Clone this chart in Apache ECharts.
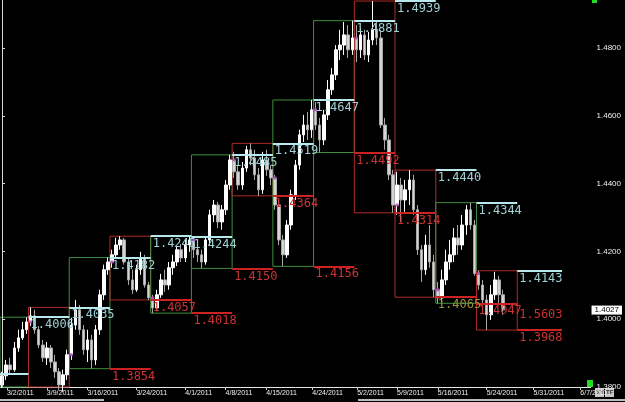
<!DOCTYPE html>
<html>
<head>
<meta charset="utf-8">
<title>EUR/USD weekly ranges</title>
<script src="https://cdn.jsdelivr.net/npm/echarts@6/dist/echarts.min.js"></script>
<style>
  html, body { margin: 0; padding: 0; background: #000; }
  #chart { width: 625px; height: 402px; }
</style>
</head>
<body>
<div id="chart"></div>
<script>
// bars per week (2 per trading day), last week still running
const weekBars = [7, 10, 10, 10, 10, 10, 10, 10, 10, 10, 10, 10, 7];
// slots taken by each week on the time axis (last one = current week)
const weekSlots = [7, 10, 10, 10, 10, 10, 10, 10, 10, 10, 10, 10, 10, 11];

// [open, close, low, high]
const bars = [
  // 2/28
  [1.3806,1.3833,1.3797,1.3845],[1.3833,1.3865,1.3821,1.3880],[1.3865,1.3851,1.3836,1.3886],
  [1.3851,1.3915,1.3845,1.3933],[1.3915,1.3945,1.3904,1.3969],[1.3945,1.3969,1.3939,1.3992],
  [1.3969,1.3992,1.3957,1.4006],
  // 3/7
  [1.3992,1.4010,1.3980,1.4035],[1.4010,1.3969,1.3957,1.4028],[1.3969,1.3924,1.3915,1.3980],
  [1.3924,1.3886,1.3874,1.3939],[1.3886,1.3915,1.3865,1.3933],[1.3915,1.3874,1.3856,1.3924],
  [1.3874,1.3845,1.3827,1.3895],[1.3845,1.3806,1.3792,1.3856],[1.3806,1.3836,1.3786,1.3851],
  [1.3836,1.3895,1.3821,1.3910],
  // 3/14
  [1.3895,1.3983,1.3880,1.4004],[1.3983,1.4028,1.3969,1.4057],[1.4028,1.3969,1.3954,1.4042],
  [1.3969,1.3910,1.3895,1.3983],[1.3910,1.3939,1.3874,1.3969],[1.3939,1.3880,1.3854,1.3954],
  [1.3880,1.3969,1.3865,1.3983],[1.3969,1.4072,1.3954,1.4087],[1.4072,1.4146,1.4057,1.4161],
  [1.4146,1.4169,1.4131,1.4182],
  // 3/21
  [1.4169,1.4190,1.4152,1.4205],[1.4190,1.4219,1.4181,1.4240],[1.4219,1.4234,1.4205,1.4245],
  [1.4234,1.4169,1.4161,1.4240],[1.4169,1.4116,1.4101,1.4181],[1.4116,1.4087,1.4075,1.4146],
  [1.4087,1.4146,1.4081,1.4161],[1.4146,1.4181,1.4131,1.4199],[1.4181,1.4101,1.4093,1.4190],
  [1.4101,1.4063,1.4057,1.4110],
  // 3/28
  [1.4063,1.4033,1.4018,1.4072],[1.4033,1.4072,1.4024,1.4087],[1.4072,1.4116,1.4063,1.4134],
  [1.4116,1.4101,1.4081,1.4146],[1.4101,1.4152,1.4087,1.4169],[1.4152,1.4169,1.4131,1.4190],
  [1.4169,1.4205,1.4157,1.4217],[1.4205,1.4181,1.4169,1.4222],[1.4181,1.4219,1.4169,1.4234],
  [1.4219,1.4234,1.4199,1.4244],
  // 4/4
  [1.4234,1.4205,1.4181,1.4240],[1.4205,1.4190,1.4169,1.4222],[1.4190,1.4169,1.4150,1.4205],
  [1.4169,1.4234,1.4161,1.4240],[1.4234,1.4308,1.4219,1.4323],[1.4308,1.4337,1.4287,1.4352],
  [1.4337,1.4287,1.4269,1.4346],[1.4287,1.4323,1.4264,1.4337],[1.4323,1.4396,1.4308,1.4411],
  [1.4396,1.4470,1.4382,1.4485],
  // 4/11
  [1.4470,1.4435,1.4417,1.4494],[1.4435,1.4396,1.4382,1.4455],[1.4396,1.4446,1.4382,1.4464],
  [1.4446,1.4500,1.4435,1.4511],[1.4500,1.4476,1.4455,1.4519],[1.4476,1.4426,1.4411,1.4500],
  [1.4426,1.4382,1.4364,1.4446],[1.4382,1.4470,1.4370,1.4494],[1.4470,1.4441,1.4423,1.4500],
  [1.4441,1.4417,1.4396,1.4455],
  // 4/18
  [1.4417,1.4337,1.4323,1.4426],[1.4337,1.4234,1.4219,1.4352],[1.4234,1.4190,1.4156,1.4249],
  [1.4190,1.4278,1.4181,1.4293],[1.4278,1.4367,1.4264,1.4382],[1.4367,1.4455,1.4352,1.4470],
  [1.4455,1.4544,1.4441,1.4559],[1.4544,1.4573,1.4523,1.4603],[1.4573,1.4559,1.4529,1.4612],
  [1.4559,1.4618,1.4535,1.4647],
  // 4/25
  [1.4618,1.4573,1.4559,1.4641],[1.4573,1.4529,1.4492,1.4594],[1.4529,1.4603,1.4514,1.4618],
  [1.4603,1.4677,1.4588,1.4706],[1.4677,1.4721,1.4662,1.4741],[1.4721,1.4795,1.4706,1.4809],
  [1.4795,1.4809,1.4765,1.4854],[1.4809,1.4839,1.4780,1.4877],[1.4839,1.4795,1.4771,1.4868],
  [1.4795,1.4830,1.4780,1.4881],
  // 5/2
  [1.4830,1.4795,1.4759,1.4868],[1.4795,1.4839,1.4771,1.4859],[1.4839,1.4780,1.4765,1.4854],
  [1.4780,1.4824,1.4759,1.4848],[1.4824,1.4854,1.4809,1.4939],[1.4854,1.4830,1.4809,1.4883],
  [1.4830,1.4573,1.4564,1.4854],[1.4573,1.4529,1.4500,1.4594],[1.4529,1.4426,1.4411,1.4544],
  [1.4426,1.4337,1.4314,1.4441],
  // 5/9
  [1.4337,1.4396,1.4308,1.4435],[1.4396,1.4352,1.4287,1.4417],[1.4352,1.4382,1.4317,1.4411],
  [1.4382,1.4411,1.4337,1.4440],[1.4411,1.4323,1.4308,1.4426],[1.4323,1.4205,1.4190,1.4337],
  [1.4205,1.4146,1.4110,1.4219],[1.4146,1.4219,1.4131,1.4249],[1.4219,1.4169,1.4152,1.4278],
  [1.4169,1.4087,1.4065,1.4190],
  // 5/16
  [1.4087,1.4063,1.4047,1.4110],[1.4063,1.4116,1.4051,1.4146],[1.4116,1.4169,1.4101,1.4205],
  [1.4169,1.4190,1.4146,1.4234],[1.4190,1.4240,1.4169,1.4269],[1.4240,1.4219,1.4190,1.4278],
  [1.4219,1.4278,1.4205,1.4308],[1.4278,1.4323,1.4249,1.4337],[1.4323,1.4278,1.4264,1.4344],
  [1.4278,1.4135,1.4128,1.4293],
  // 5/23
  [1.4135,1.4101,1.4087,1.4143],[1.4101,1.4057,1.4042,1.4116],[1.4057,1.4013,1.3968,1.4072],
  [1.4013,1.4072,1.3998,1.4101],[1.4072,1.4116,1.4057,1.4140],[1.4116,1.4072,1.4042,1.4128],
  [1.4072,1.4027,1.4013,1.4087]
];

const priorWeekHigh = 1.3838;
const lastPrice = 1.4027;
const extraLabel = '1.5603';
const extraLabelPrice = 1.4036;

const yTicks = [1.38, 1.40, 1.42, 1.44, 1.46, 1.48];
const dateLabels = ['3/2/2011', '3/9/2011', '3/16/2011', '3/24/2011', '4/1/2011', '4/8/2011', '4/15/2011',
  '4/24/2011', '5/2/2011', '5/9/2011', '5/16/2011', '5/24/2011', '5/31/2011', '6/7/2011'];
const dateSlots = [1.2, 11, 21, 33, 45, 54.9, 64.9, 76.2, 87.2, 97, 107, 119, 130.5, 142];

const GREEN = '#3f8f3f', RED = '#b02a2a';
const HI_LINE = '#b6e8ee', HI_TEXT = '#9fd0d6';
const LO_LINE = '#cc2222', LO_TEXT = '#cc3333';
const NONE = 'rgba(0,0,0,0)';
const Y_MIN = 1.38, Y_MAX = 1.4942;

// week edges on the slot axis
const edges = [-0.5];
weekSlots.forEach((n, i) => edges.push(edges[i] + n));

// weekly open / close / high / low
const weeks = [];
let pos = 0;
weekBars.forEach(n => {
  const wk = bars.slice(pos, pos + n);
  weeks.push({
    start: pos,
    open: wk[0][0],
    close: wk[n - 1][1],
    low: Math.min(...wk.map(b => b[2])),
    high: Math.max(...wk.map(b => b[3]))
  });
  pos += n;
});

const candleData = bars.map((b, i) => [i, b[0], b[1], b[2], b[3]]);
const openDots = weeks.slice(1).map(w => [w.start, w.open]);

const boxes = weeks.map((w, k) => [
  { coord: [edges[k], w.low], itemStyle: { color: NONE, borderColor: w.close >= w.open ? GREEN : RED, borderWidth: 1 } },
  { coord: [edges[k + 1], w.high] }
]);

function levelLine(k, value, isHigh, showLabel, textColor) {
  return [
    {
      coord: [edges[k], value],
      lineStyle: { color: isHigh ? HI_LINE : LO_LINE, width: 2, type: 'solid' },
      label: {
        show: showLabel, formatter: value.toFixed(4), position: 'insideStartBottom',
        color: textColor || (isHigh ? HI_TEXT : LO_TEXT)
      }
    },
    { coord: [edges[k + 1], value] }
  ];
}

const levels = [levelLine(0, priorWeekHigh, true, false)];
weeks.forEach((w, k) => {
  levels.push(levelLine(k + 1, w.high, true, true));
  if (w.low >= Y_MIN) levels.push(levelLine(k + 1, w.low, false, true, k === 10 ? '#9a9440' : null));
});
levels.push([
  { coord: [edges[13], extraLabelPrice], lineStyle: { width: 0, color: NONE },
    label: { show: true, formatter: extraLabel, position: 'insideStartBottom', color: LO_TEXT } },
  { coord: [edges[14], extraLabelPrice] }
]);
// left cursor line
levels.push([
  { coord: [0.15, Y_MIN], lineStyle: { color: '#d8d8d8', width: 1, type: 'solid' }, label: { show: false } },
  { coord: [0.15, Y_MAX] }
]);

const chart = echarts.init(document.getElementById('chart'));
chart.setOption({
  backgroundColor: '#000',
  animation: false,
  grid: { left: 0, right: 33, top: 0, bottom: 15 },
  xAxis: {
    type: 'value', min: -0.5, max: 144.5,
    axisLine: { show: true, onZero: false, lineStyle: { color: '#e6e6e6' } },
    axisTick: { show: true, length: 3, customValues: dateSlots, lineStyle: { color: '#cfcfcf' } },
    axisLabel: {
      customValues: dateSlots, align: 'left', margin: 3, color: '#f0f0f0',
      fontSize: 7, fontFamily: 'Liberation Sans',
      formatter: v => {
        let best = 0;
        dateSlots.forEach((s, i) => { if (Math.abs(s - v) < Math.abs(dateSlots[best] - v)) best = i; });
        return dateLabels[best];
      }
    },
    splitLine: { show: false }
  },
  yAxis: [
    {
      type: 'value', position: 'right', min: Y_MIN, max: Y_MAX,
      axisLine: { show: true, lineStyle: { color: '#8c8c8c' } },
      axisTick: { show: true, length: 3, customValues: yTicks, lineStyle: { color: '#dddddd' } },
      axisLabel: {
        customValues: yTicks, margin: 6, color: '#f0f0f0', fontSize: 8, fontFamily: 'Liberation Sans',
        formatter: v => v.toFixed(4)
      },
      splitLine: { show: false }
    },
    {
      // last price tag
      type: 'value', position: 'right', min: Y_MIN, max: Y_MAX,
      axisLine: { show: false }, axisTick: { show: false }, splitLine: { show: false },
      axisLabel: {
        customValues: [lastPrice], margin: 1, color: '#000', backgroundColor: '#ffffff',
        fontSize: 8, fontFamily: 'Liberation Sans', padding: [1, 3, 0, 3],
        formatter: v => v.toFixed(4)
      }
    }
  ],
  series: [
    {
      type: 'candlestick',
      data: candleData,
      barWidth: 3,
      clip: false,
      z: 3,
      itemStyle: { color: '#ffffff', color0: '#d4d4d4', borderColor: '#ffffff', borderColor0: '#a8a8a8', borderWidth: 1 },
      markArea: { silent: true, data: boxes },
      markLine: {
        silent: true, symbol: ['none', 'none'],
        label: { fontFamily: 'DejaVu Sans Mono', fontSize: 12, distance: [2, 2] },
        data: levels
      }
    },
    {
      type: 'scatter',
      data: openDots,
      symbol: 'rect',
      symbolSize: 3,
      z: 4,
      itemStyle: { color: '#b040c0' },
      silent: true
    }
  ],
  graphic: [
    { type: 'rect', shape: { x: 587, y: 380, width: 6, height: 7 }, style: { fill: '#22dd22' } },
    { type: 'rect', shape: { x: 592, y: 0, width: 5, height: 3 }, style: { fill: '#22dd22' } },
    { type: 'rect', shape: { x: 0, y: 399, width: 104, height: 2 }, style: { fill: '#bdbdbd' } },
    { type: 'rect', shape: { x: 358, y: 399, width: 267, height: 2 }, style: { fill: '#bdbdbd' } },
    { type: 'rect', shape: { x: 595, y: 388, width: 9, height: 9 }, style: { fill: '#c8c8c8' } },
    { type: 'rect', shape: { x: 605, y: 388, width: 9, height: 9 }, style: { fill: '#c8c8c8' } },
    { type: 'text', x: 596, y: 389, style: { text: 'SY', fill: '#333', font: 'bold 6px Liberation Sans' } },
    { type: 'text', x: 606, y: 389, style: { text: 'TF', fill: '#333', font: 'bold 6px Liberation Sans' } }
  ]
});
</script>
</body>
</html>
